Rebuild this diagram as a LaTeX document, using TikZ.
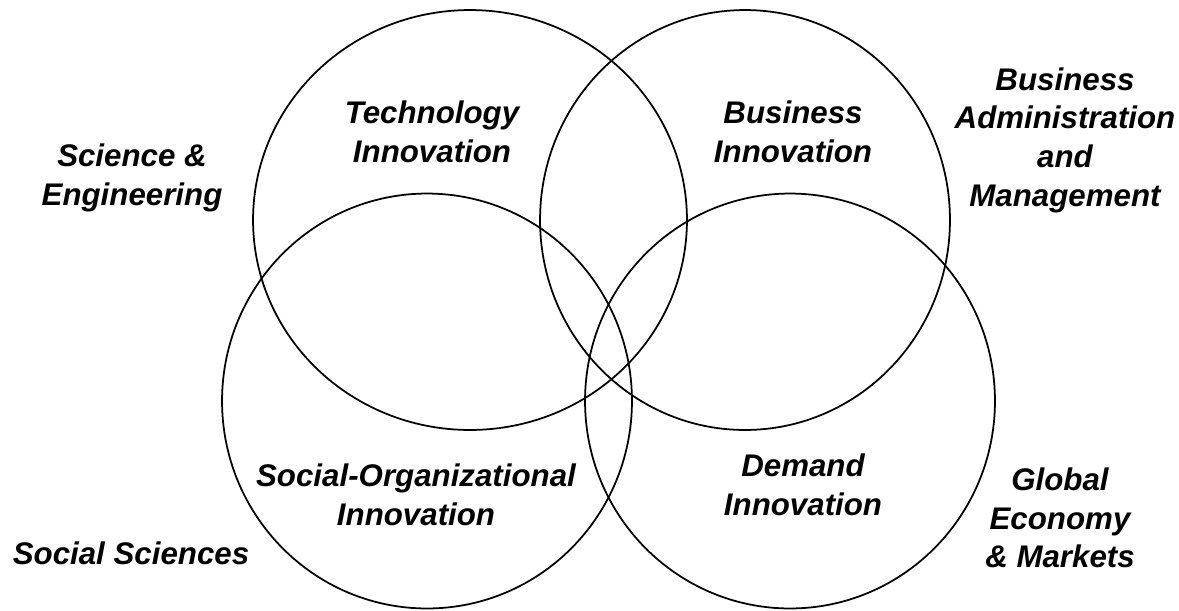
\documentclass[tikz,border=0pt]{standalone}
\usepackage{fontspec}
\setsansfont{Liberation Sans}
\usetikzlibrary{positioning, shapes.geometric}

\begin{document}
\begin{tikzpicture}[
    x=0.02cm, y=-0.02cm,     % one unit = one pixel of the reference
    font=\sffamily\bfseries\itshape\fontsize{17.8}{22}\selectfont,
    field/.style={
        draw,
        ellipse,
        line width=1pt,
        minimum width=8.2cm,
        minimum height=8.3cm,
        inner sep=0pt
    },
    tag/.style={
        align=center,
        inner sep=0pt
    }
]

% canvas of the reference
\useasboundingbox (0,0) rectangle (1179,610);

%--- Four innovation fields ---
\node[field, minimum width=8.68cm, minimum height=8.4cm] (tech) at (470,220) {};
\node[field, minimum height=8.4cm] (busi) at (745,220) {};
\node[field] (social) at (427,401) {};
\node[field] (demand) at (790,401) {};

%--- Labels inside the circles ---
\node[tag] (tech_lbl)   at (432,132) {Technology\\Innovation};
\node[tag] (busi_lbl)   at (793,132) {Business\\Innovation};
\node[tag] (social_lbl) at (416,495) {Social-Organizational\\Innovation};
\node[tag] (demand_lbl) at (803,485) {Demand\\Innovation};

%--- Disciplines outside ---
\node[tag] (sci_eng)   at (132,178) {Science \&\\Engineering};
\node[tag] (bus_admin) at (1065,140) {Business\\Administration\\and\\Management};
\node[tag] (soc_sci)   at (131,553) {Social Sciences};
\node[tag] (glob_econ) at (1060,518) {Global\\Economy\\\& Markets};

\end{tikzpicture}
\end{document}
